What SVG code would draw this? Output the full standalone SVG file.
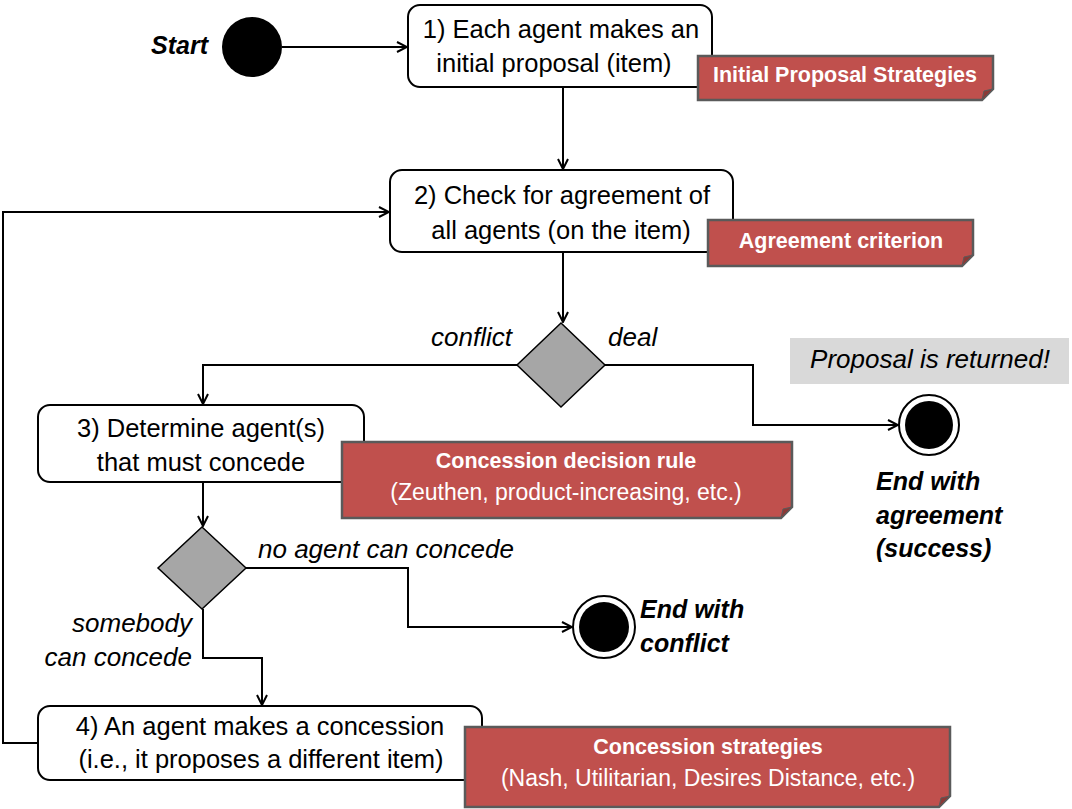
<svg xmlns="http://www.w3.org/2000/svg" width="1072" height="809" viewBox="0 0 1072 809">
<defs>
<marker id="arr" viewBox="0 0 12 12" refX="11" refY="6" markerWidth="12" markerHeight="12" markerUnits="userSpaceOnUse" orient="auto">
<path d="M1,1 L11,6 L1,11" fill="none" stroke="#000" stroke-width="2"/>
</marker>
<style>
.box{fill:#fff;stroke:#000;stroke-width:2}
.t{font-family:"Liberation Sans",Arial,sans-serif;font-size:25.5px;fill:#000;text-anchor:middle}
.note{fill:#c0504d;stroke:#5a5a5a;stroke-width:2.5}
.fold{fill:#8a3a37;stroke:#5a5a5a;stroke-width:1}
.nt{font-family:"Liberation Sans",Arial,sans-serif;font-size:21.5px;font-weight:bold;fill:#fff;text-anchor:middle}
.ns{font-family:"Liberation Sans",Arial,sans-serif;font-size:23px;fill:#fff;text-anchor:middle}
.lbl{font-family:"Liberation Sans",Arial,sans-serif;font-size:26px;font-style:italic;fill:#000}
.bl{font-family:"Liberation Sans",Arial,sans-serif;font-size:25px;font-style:italic;font-weight:bold;fill:#000}
.dia{fill:#a6a6a6;stroke:#000;stroke-width:1.5}
.c{fill:none;stroke:#000;stroke-width:2;marker-end:url(#arr)}
</style>
</defs>
<rect width="1072" height="809" fill="#fff"/>

<g id="connectors">
<path class="c" d="M282,47 L407,47"/>
<path class="c" d="M563,87 L563,169"/>
<path class="c" d="M563,252 L563,322"/>
<path class="c" d="M517,365 L203,365 L203,404"/>
<path class="c" d="M605,365 L753,365 L753,425 L898,425"/>
<path class="c" d="M203,482 L203,526"/>
<path class="c" d="M246,568 L408,568 L408,627 L572,627"/>
<path class="c" d="M203,609 L203,658 L262,658 L262,705"/>
<path class="c" d="M38,743 L3,743 L3,212 L389,212"/>
</g>

<g id="start">
<circle cx="252" cy="47" r="30" fill="#000"/>
<text class="bl" x="208" y="47" text-anchor="end" dominant-baseline="middle">Start</text>
</g>

<g id="step1">
<rect class="box" x="408" y="5" width="304" height="82" rx="12"/>
<text class="t" x="561" y="38">1) Each agent makes an</text>
<text class="t" x="554" y="72">initial proposal (item)</text>
</g>
<g id="note1">
<path class="note" d="M698,56 L993,56 L993,89 L982,100 L698,100 Z"/>
<path class="fold" d="M993,89 L982,100 L984,91 Z"/>
<text class="nt" x="845" y="82">Initial Proposal Strategies</text>
</g>

<g id="step2">
<rect class="box" x="390" y="170" width="343" height="82" rx="12"/>
<text class="t" x="562" y="204">2) Check for agreement of</text>
<text class="t" x="561" y="239">all agents (on the item)</text>
</g>
<g id="note2">
<path class="note" d="M708,220 L973,220 L973,255 L962,266 L708,266 Z"/>
<path class="fold" d="M973,255 L962,266 L964,257 Z"/>
<text class="nt" x="841" y="248">Agreement criterion</text>
</g>

<g id="decision1">
<path class="dia" d="M561,323 L605,365 L561,407 L517,365 Z"/>
<text class="lbl" x="512" y="346" text-anchor="end">conflict</text>
<text class="lbl" x="608" y="346">deal</text>
</g>

<g id="returned">
<rect x="790" y="338" width="279" height="46" fill="#d9d9d9"/>
<text class="lbl" x="930" y="368" text-anchor="middle">Proposal is returned!</text>
</g>

<g id="endAgreement">
<circle cx="929" cy="425" r="30" fill="#fff" stroke="#000" stroke-width="2"/>
<circle cx="929" cy="425" r="24" fill="#000"/>
<text class="bl" x="876" y="490">End with</text>
<text class="bl" x="876" y="524">agreement</text>
<text class="bl" x="876" y="557">(success)</text>
</g>

<g id="step3">
<rect class="box" x="38" y="405" width="326" height="77" rx="12"/>
<text class="t" x="201" y="437">3) Determine agent(s)</text>
<text class="t" x="201" y="471">that must concede</text>
</g>
<g id="note3">
<path class="note" d="M342,442 L792,442 L792,507 L781,518 L342,518 Z"/>
<path class="fold" d="M792,507 L781,518 L783,509 Z"/>
<text class="nt" x="566" y="468">Concession decision rule</text>
<text class="ns" x="566" y="500">(Zeuthen, product-increasing, etc.)</text>
</g>

<g id="decision2">
<path class="dia" d="M202,527 L246,568 L202,609 L158,568 Z"/>
<text class="lbl" x="258" y="558">no agent can concede</text>
<text class="lbl" x="192" y="632" text-anchor="end">somebody</text>
<text class="lbl" x="192" y="666" text-anchor="end">can concede</text>
</g>

<g id="endConflict">
<circle cx="604" cy="627" r="31" fill="#fff" stroke="#000" stroke-width="2"/>
<circle cx="604" cy="627" r="25" fill="#000"/>
<text class="bl" x="640" y="618">End with</text>
<text class="bl" x="640" y="652">conflict</text>
</g>

<g id="step4">
<rect class="box" x="38" y="706" width="444" height="74" rx="12"/>
<text class="t" x="260" y="735">4) An agent makes a concession</text>
<text class="t" x="261" y="768">(i.e., it proposes a different item)</text>
</g>
<g id="note4">
<path class="note" d="M465,727 L950,727 L950,796 L939,807 L465,807 Z"/>
<path class="fold" d="M950,796 L939,807 L941,798 Z"/>
<text class="nt" x="708" y="754">Concession strategies</text>
<text class="ns" x="708" y="786">(Nash, Utilitarian, Desires Distance, etc.)</text>
</g>
</svg>
